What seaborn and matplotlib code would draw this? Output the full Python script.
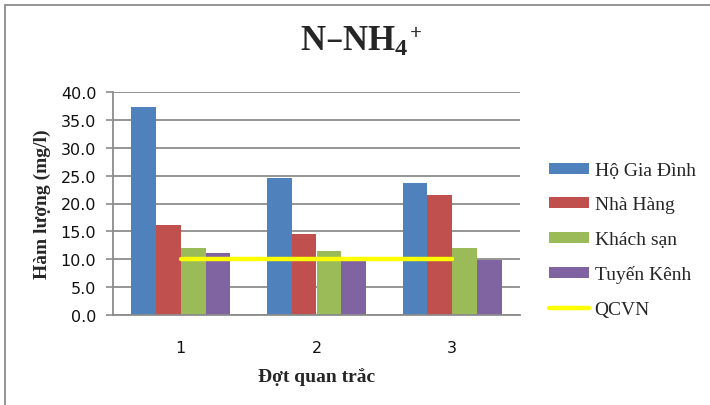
import matplotlib
matplotlib.use("Agg")
import matplotlib.pyplot as plt
from matplotlib.patches import Rectangle
from matplotlib.lines import Line2D
import seaborn as sns
import pandas as pd

# Sampling rounds and measured N-NH4+ concentrations (mg/l)
dots = ["1", "2", "3"]
ho_gia_dinh = [37.3, 24.6, 23.7]
nha_hang = [16.2, 14.6, 21.5]
khach_san = [12.0, 11.5, 12.0]
tuyen_kenh = [11.1, 9.8, 9.8]
qcvn = [10.0, 10.0, 10.0]

series_names = ["Hộ Gia Đình", "Nhà Hàng", "Khách sạn", "Tuyến Kênh"]
series_values = [ho_gia_dinh, nha_hang, khach_san, tuyen_kenh]
colors = ["#4F81BD", "#C0504D", "#9BBB59", "#8064A2"]
yticks = [0, 5, 10, 15, 20, 25, 30, 35, 40]

rows = []
for name, vals in zip(series_names, series_values):
    for d, v in zip(dots, vals):
        rows.append({"Đợt": d, "Nhóm": name, "Giá trị": v})
df = pd.DataFrame(rows)

sns.set_theme(style="white")
plt.rcParams["mathtext.default"] = "regular"

serif = "Liberation Serif"
tickfont = "DejaVu Sans"

fig = plt.figure(figsize=(7.10, 4.06), dpi=100)
ax = fig.add_axes([113 / 710, 1 - 316 / 406, (520 - 113) / 710, (316 - 93) / 406])

sns.barplot(data=df, x="Đợt", y="Giá trị", hue="Nhóm", order=dots,
            hue_order=series_names, palette=colors, width=0.73, gap=0,
            saturation=1, edgecolor="none", legend=False, ax=ax, zorder=2)

# Standard limit line across the sampling rounds
ax.plot(range(len(dots)), qcvn, color="#FFFF00", lw=3.2, zorder=3,
        solid_capstyle="round")

ax.set_ylim(0, 40)
ax.set_xlim(-0.5, len(dots) - 0.5)
ax.set_yticks(yticks)
ax.set_yticklabels([f"{t:.1f}" for t in yticks], fontfamily=tickfont,
                   fontsize=11.5, color="#111111")
ax.set_xticks(range(len(dots)))
ax.set_xticklabels(dots, fontfamily=tickfont, fontsize=11.5, color="#111111")
ax.yaxis.grid(True, color="#8C8C8C", lw=1.3, zorder=0)
ax.set_axisbelow(True)
for s in ["top", "right"]:
    ax.spines[s].set_visible(False)
for s in ["left", "bottom"]:
    ax.spines[s].set_color("#8C8C8C")
    ax.spines[s].set_linewidth(1.3)
ax.tick_params(axis="y", left=True, length=5, width=1.2, color="#8C8C8C", pad=7)
ax.tick_params(axis="x", bottom=False, pad=12)

ax.set_xlabel("Đợt quan trắc", fontfamily=serif, fontweight="bold", fontsize=14)
ax.xaxis.label.set_va("center")
ax.xaxis.set_label_coords(0.5, (316 - 377) / 223)
ax.set_ylabel("Hàm lượng (mg/l)", fontfamily=serif, fontweight="bold", fontsize=14)
ax.yaxis.label.set_va("center")
ax.yaxis.set_label_coords((42 - 113) / 407, 0.5)

# Title: N–NH4 with the charge sign set right after the subscript
title = fig.text(300 / 710, 1 - 51 / 406, "N–NH$_4$", ha="left", va="baseline",
                 fontfamily=serif, fontweight="bold", fontsize=25)
fig.canvas.draw()
bb = title.get_window_extent().transformed(fig.transFigure.inverted())
fig.text(bb.x1 + 1 / 710, 1 - 51 / 406 + 12 / 406, "+", ha="left", va="baseline",
         fontfamily=serif, fontweight="bold", fontsize=15)

handles = [Rectangle((0, 0), 1, 1, facecolor=c, edgecolor="none") for c in colors]
handles.append(Line2D([0], [0], color="#FFFF00", lw=3.2, solid_capstyle="round"))
labels = series_names + ["QCVN"]
fig.legend(handles, labels, loc="center left", bbox_to_anchor=(549 / 710, 1 - 241 / 406),
           frameon=False, prop={"family": serif, "size": 14},
           handlelength=2.05, handleheight=0.48, handletextpad=0.3,
           labelspacing=0.9, borderaxespad=0, borderpad=0)

# Outer chart frame
fig.patches.append(Rectangle((5 / 710, -0.1), 1.2, 1 - 6 / 406 + 0.1,
                             transform=fig.transFigure, fill=False,
                             edgecolor="#8C8C8C", lw=1.3, zorder=0))

fig.savefig("out.png", dpi=100)
